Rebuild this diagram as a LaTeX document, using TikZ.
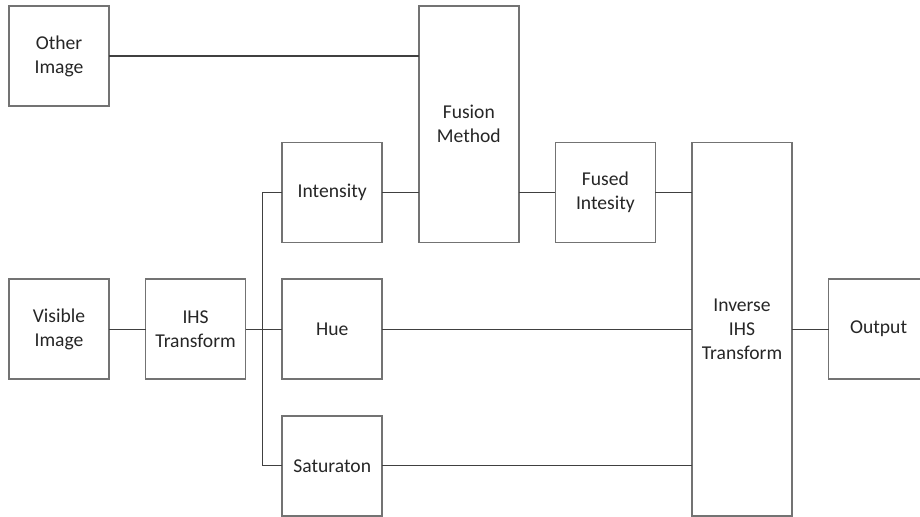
\documentclass[tikz,border=0pt]{standalone}
\usepackage{fontspec}
\setmainfont{Carlito}
\usetikzlibrary{positioning}

\begin{document}
\begin{tikzpicture}[node distance=18.3pt,blk/.style={rectangle,draw=black!55,line width=0.8pt,outer sep=0pt,minimum width=50pt,minimum height=50pt,align=center,inner sep=1pt,font=\fontsize{9.8}{12}\selectfont,text=black!85},wire/.style={draw=black!75,line width=0.55pt}]
\useasboundingbox (0,0) rectangle (460pt,258.5pt);
\node[blk] (other) at (29.5pt,230.5pt) {Other\\Image};
\node[blk,below=86.6pt of other] (visible) {Visible\\Image};
\node[blk,right=of visible] (ihs) {IHS\\Transform};
\node[blk,right=of ihs] (hue) {Hue};
\node[blk,above=of hue] (intensity) {Intensity};
\node[blk,below=of hue] (satur) {Saturaton};
\node[blk,minimum height=118.3pt,right=of intensity.south east,anchor=south west] (fusion) {Fusion\\Method};
\node[blk,right=of fusion.south east,anchor=south west] (fused) {Fused\\Intesity};
\node[blk,minimum height=186.6pt,right=of fused.north east,anchor=north west] (inverse) {Inverse\\IHS\\Transform};
\node[blk,right=of inverse] (output) {Output};
\draw[wire] (other.east) -- (other.east -| fusion.west);
\draw[wire] (intensity) -- (intensity -| fusion.west);
\draw[wire] (fusion.east |- fused) -- (fused);
\draw[wire] (fused) -- (fused -| inverse.west);
\draw[wire] (visible) -- (ihs); \draw[wire] (ihs) -- (hue);
\draw[wire] (intensity.west) -- ++(-9.75pt,0) |- (satur.west);
\draw[wire] (hue) -- (hue -| inverse.west);
\draw[wire] (satur) -- (satur -| inverse.west);
\draw[wire] (inverse) -- (output);
\end{tikzpicture}
\end{document}
